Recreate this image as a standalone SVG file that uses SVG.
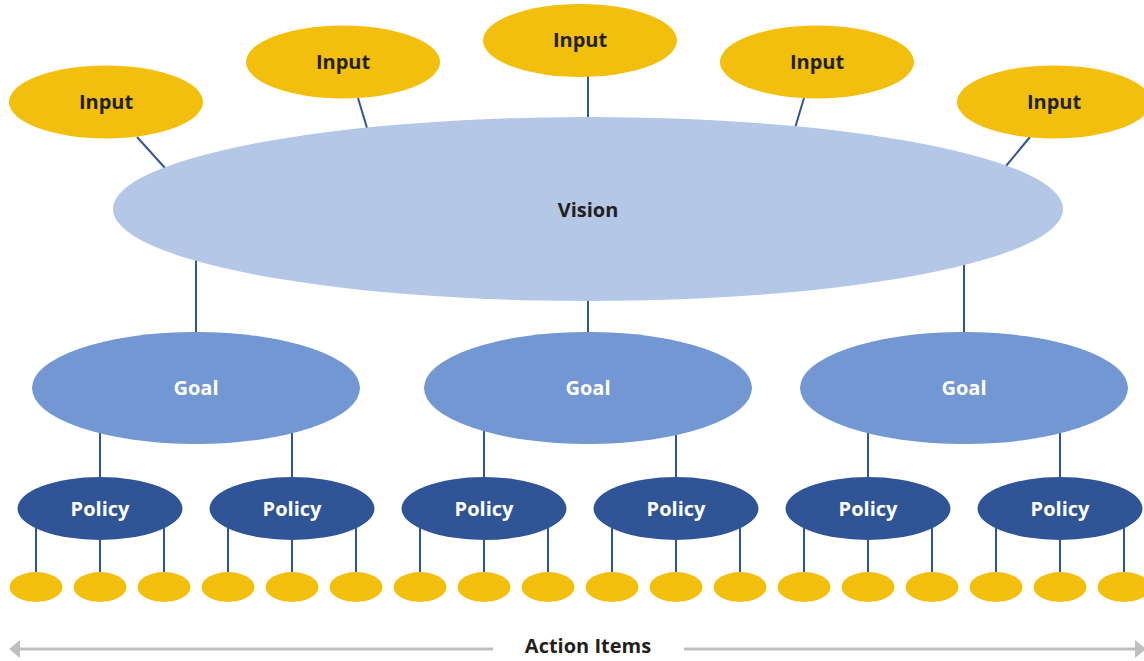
<svg xmlns="http://www.w3.org/2000/svg" width="1144" height="661" viewBox="0 0 1144 661">
<style>
.in{fill:#F2BF0E}
.vi{fill:#B4C7E7}
.go{fill:#7297D3}
.po{fill:#2F5597}
.ai{fill:#F2BF0E}
.ln{stroke:#2F5597;stroke-width:2;fill:none}
.t{font-family:"Open Sans","Liberation Sans",sans-serif;font-weight:bold;font-size:20px;text-anchor:middle}
.dk{fill:#231F20}
.wh{fill:#FFFFFF}
.ar{stroke:#BFBFC2;stroke-width:3;fill:none}
</style>
<rect width="1144" height="661" fill="#FFFFFF"/>
<g id="connectors">
<line class="ln" x1="137" y1="137" x2="165" y2="168"/>
<line class="ln" x1="358" y1="98" x2="367" y2="128"/>
<line class="ln" x1="588" y1="76" x2="588" y2="120"/>
<line class="ln" x1="804" y1="98" x2="795" y2="128"/>
<line class="ln" x1="1030" y1="137" x2="1006" y2="166"/>
<line class="ln" x1="196" y1="250" x2="196" y2="340"/>
<line class="ln" x1="588" y1="290" x2="588" y2="340"/>
<line class="ln" x1="964" y1="250" x2="964" y2="340"/>
<line class="ln" x1="100" y1="420" x2="100" y2="490"/>
<line class="ln" x1="292" y1="420" x2="292" y2="490"/>
<line class="ln" x1="484" y1="420" x2="484" y2="490"/>
<line class="ln" x1="676" y1="420" x2="676" y2="490"/>
<line class="ln" x1="868" y1="420" x2="868" y2="490"/>
<line class="ln" x1="1060" y1="420" x2="1060" y2="490"/>
<g>
<line class="ln" x1="36" y1="509" x2="36" y2="580"/><line class="ln" x1="100" y1="509" x2="100" y2="580"/><line class="ln" x1="164" y1="509" x2="164" y2="580"/>
<line class="ln" x1="228" y1="509" x2="228" y2="580"/><line class="ln" x1="292" y1="509" x2="292" y2="580"/><line class="ln" x1="356" y1="509" x2="356" y2="580"/>
<line class="ln" x1="420" y1="509" x2="420" y2="580"/><line class="ln" x1="484" y1="509" x2="484" y2="580"/><line class="ln" x1="548" y1="509" x2="548" y2="580"/>
<line class="ln" x1="612" y1="509" x2="612" y2="580"/><line class="ln" x1="676" y1="509" x2="676" y2="580"/><line class="ln" x1="740" y1="509" x2="740" y2="580"/>
<line class="ln" x1="804" y1="509" x2="804" y2="580"/><line class="ln" x1="868" y1="509" x2="868" y2="580"/><line class="ln" x1="932" y1="509" x2="932" y2="580"/>
<line class="ln" x1="996" y1="509" x2="996" y2="580"/><line class="ln" x1="1060" y1="509" x2="1060" y2="580"/><line class="ln" x1="1124" y1="509" x2="1124" y2="580"/>
</g>
</g>
<g id="input1"><ellipse class="in" cx="106" cy="102" rx="97" ry="36.5"/><text class="t dk" x="106" y="109">Input</text></g>
<g id="input2"><ellipse class="in" cx="343" cy="62" rx="97" ry="36.5"/><text class="t dk" x="343" y="69">Input</text></g>
<g id="input3"><ellipse class="in" cx="580" cy="40.5" rx="97" ry="36.5"/><text class="t dk" x="580" y="47">Input</text></g>
<g id="input4"><ellipse class="in" cx="817" cy="62" rx="97" ry="36.5"/><text class="t dk" x="817" y="69">Input</text></g>
<g id="input5"><ellipse class="in" cx="1054" cy="102" rx="97" ry="36.5"/><text class="t dk" x="1054" y="109">Input</text></g>
<g id="vision"><ellipse class="vi" cx="588" cy="209" rx="475" ry="92"/><text class="t dk" x="588" y="217">Vision</text></g>
<g id="goal1"><ellipse class="go" cx="196" cy="388" rx="164" ry="56"/><text class="t wh" x="196" y="395">Goal</text></g>
<g id="goal2"><ellipse class="go" cx="588" cy="388" rx="164" ry="56"/><text class="t wh" x="588" y="395">Goal</text></g>
<g id="goal3"><ellipse class="go" cx="964" cy="388" rx="164" ry="56"/><text class="t wh" x="964" y="395">Goal</text></g>
<g id="policy1"><ellipse class="po" cx="100" cy="508.5" rx="82.5" ry="31.5"/><text class="t wh" x="100" y="516">Policy</text></g>
<g id="policy2"><ellipse class="po" cx="292" cy="508.5" rx="82.5" ry="31.5"/><text class="t wh" x="292" y="516">Policy</text></g>
<g id="policy3"><ellipse class="po" cx="484" cy="508.5" rx="82.5" ry="31.5"/><text class="t wh" x="484" y="516">Policy</text></g>
<g id="policy4"><ellipse class="po" cx="676" cy="508.5" rx="82.5" ry="31.5"/><text class="t wh" x="676" y="516">Policy</text></g>
<g id="policy5"><ellipse class="po" cx="868" cy="508.5" rx="82.5" ry="31.5"/><text class="t wh" x="868" y="516">Policy</text></g>
<g id="policy6"><ellipse class="po" cx="1060" cy="508.5" rx="82.5" ry="31.5"/><text class="t wh" x="1060" y="516">Policy</text></g>
<g id="actions">
<ellipse class="ai" cx="36" cy="587" rx="26.5" ry="15"/><ellipse class="ai" cx="100" cy="587" rx="26.5" ry="15"/><ellipse class="ai" cx="164" cy="587" rx="26.5" ry="15"/>
<ellipse class="ai" cx="228" cy="587" rx="26.5" ry="15"/><ellipse class="ai" cx="292" cy="587" rx="26.5" ry="15"/><ellipse class="ai" cx="356" cy="587" rx="26.5" ry="15"/>
<ellipse class="ai" cx="420" cy="587" rx="26.5" ry="15"/><ellipse class="ai" cx="484" cy="587" rx="26.5" ry="15"/><ellipse class="ai" cx="548" cy="587" rx="26.5" ry="15"/>
<ellipse class="ai" cx="612" cy="587" rx="26.5" ry="15"/><ellipse class="ai" cx="676" cy="587" rx="26.5" ry="15"/><ellipse class="ai" cx="740" cy="587" rx="26.5" ry="15"/>
<ellipse class="ai" cx="804" cy="587" rx="26.5" ry="15"/><ellipse class="ai" cx="868" cy="587" rx="26.5" ry="15"/><ellipse class="ai" cx="932" cy="587" rx="26.5" ry="15"/>
<ellipse class="ai" cx="996" cy="587" rx="26.5" ry="15"/><ellipse class="ai" cx="1060" cy="587" rx="26.5" ry="15"/><ellipse class="ai" cx="1124" cy="587" rx="26.5" ry="15"/>
</g>
<g id="action-items-axis">
<line class="ar" x1="18" y1="649" x2="493" y2="649"/>
<line class="ar" x1="684" y1="649" x2="1136" y2="649"/>
<polygon points="9,649 20,640 20,658" fill="#BFBFC2"/>
<polygon points="1146,649 1135,640 1135,658" fill="#BFBFC2"/>
<text class="t dk" x="588" y="653">Action Items</text>
</g>
</svg>
